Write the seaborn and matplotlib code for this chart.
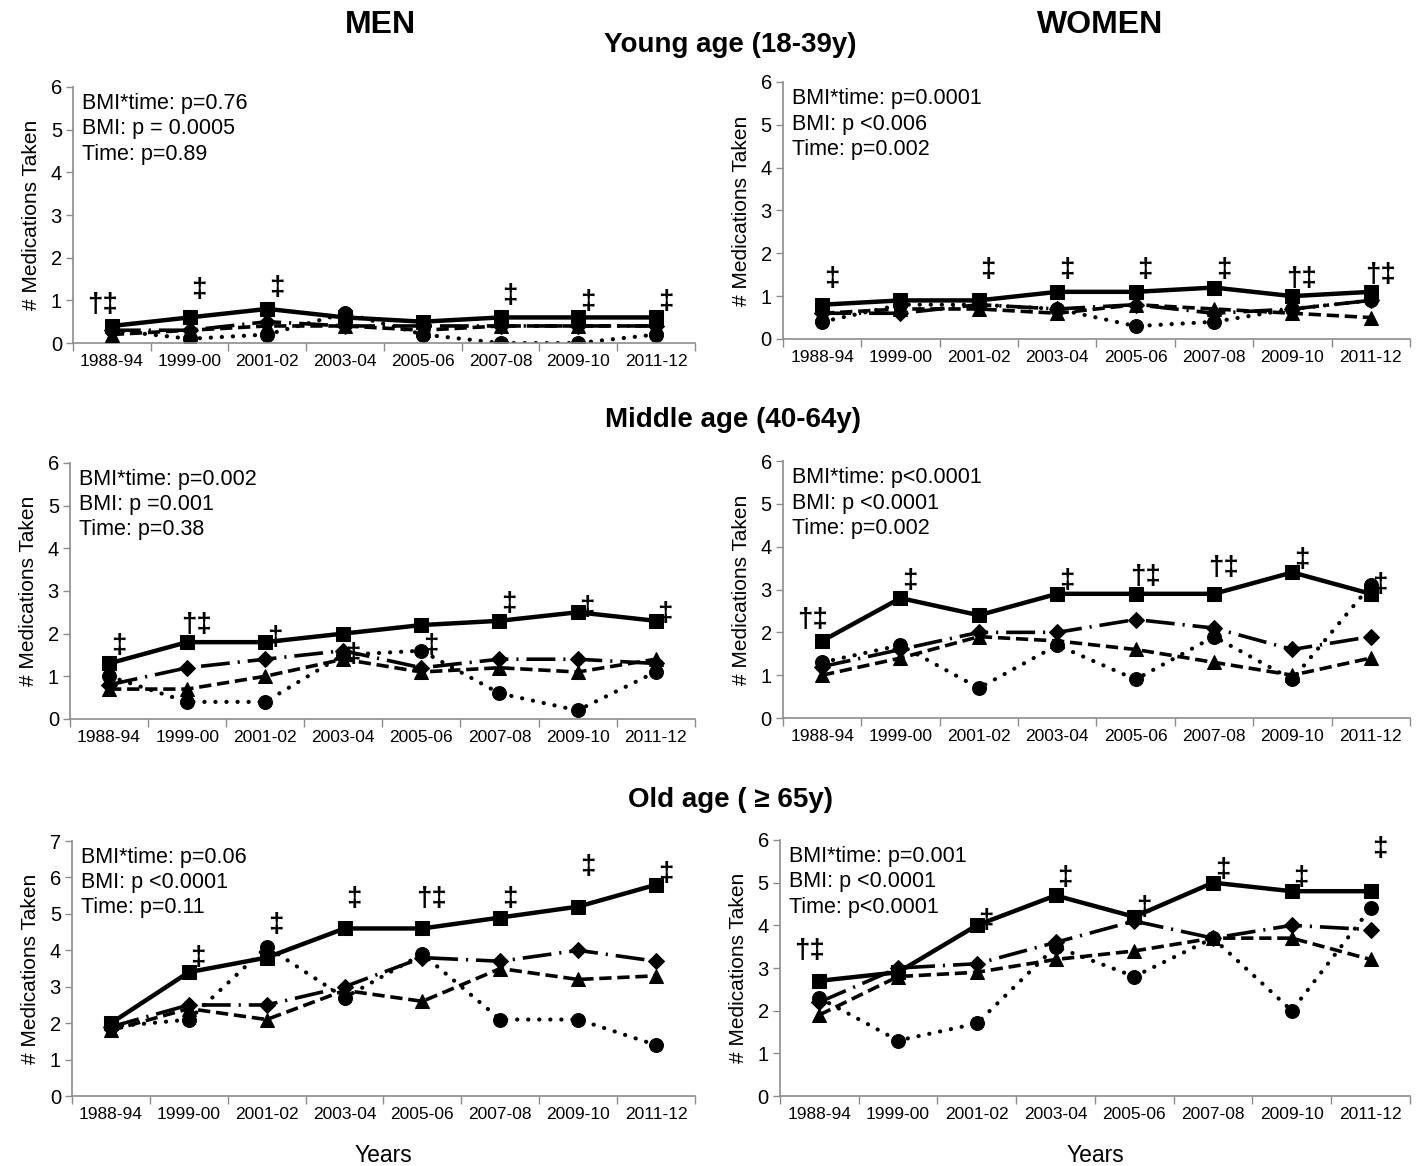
import numpy as np
import pandas as pd
import matplotlib
matplotlib.use("Agg")
import matplotlib.pyplot as plt
import seaborn as sns

PERIODS = ["1988-94", "1999-00", "2001-02", "2003-04", "2005-06", "2007-08", "2009-10", "2011-12"]

# series per panel: squares (solid), diamonds (dash-dot), triangles (dashed), circles (dotted)
young_men_sq = [0.4, 0.6, 0.8, 0.6, 0.5, 0.6, 0.6, 0.6]
young_men_di = [0.3, 0.3, 0.5, 0.4, 0.4, 0.4, 0.4, 0.4]
young_men_tr = [0.2, 0.3, 0.4, 0.4, 0.3, 0.4, 0.4, 0.4]
young_men_ci = [0.3, 0.1, 0.2, 0.7, 0.2, 0.0, 0.0, 0.2]

young_women_sq = [0.8, 0.9, 0.9, 1.1, 1.1, 1.2, 1.0, 1.1]
young_women_di = [0.6, 0.6, 0.8, 0.7, 0.8, 0.6, 0.7, 0.9]
young_women_tr = [0.6, 0.7, 0.7, 0.6, 0.8, 0.7, 0.6, 0.5]
young_women_ci = [0.4, 0.8, 0.8, 0.7, 0.3, 0.4, 0.7, 0.9]

middle_men_sq = [1.3, 1.8, 1.8, 2.0, 2.2, 2.3, 2.5, 2.3]
middle_men_di = [0.8, 1.2, 1.4, 1.6, 1.2, 1.4, 1.4, 1.3]
middle_men_tr = [0.7, 0.7, 1.0, 1.4, 1.1, 1.2, 1.1, 1.4]
middle_men_ci = [1.0, 0.4, 0.4, 1.5, 1.6, 0.6, 0.2, 1.1]

middle_women_sq = [1.8, 2.8, 2.4, 2.9, 2.9, 2.9, 3.4, 2.9]
middle_women_di = [1.2, 1.6, 2.0, 2.0, 2.3, 2.1, 1.6, 1.9]
middle_women_tr = [1.0, 1.4, 1.9, 1.8, 1.6, 1.3, 1.0, 1.4]
middle_women_ci = [1.3, 1.7, 0.7, 1.7, 0.9, 1.9, 0.9, 3.1]

old_men_sq = [2.0, 3.4, 3.8, 4.6, 4.6, 4.9, 5.2, 5.8]
old_men_di = [1.9, 2.5, 2.5, 3.0, 3.8, 3.7, 4.0, 3.7]
old_men_tr = [1.8, 2.4, 2.1, 2.9, 2.6, 3.5, 3.2, 3.3]
old_men_ci = [1.9, 2.1, 4.1, 2.7, 3.9, 2.1, 2.1, 1.4]

old_women_sq = [2.7, 2.9, 4.0, 4.7, 4.2, 5.0, 4.8, 4.8]
old_women_di = [2.2, 3.0, 3.1, 3.6, 4.1, 3.7, 4.0, 3.9]
old_women_tr = [1.9, 2.8, 2.9, 3.2, 3.4, 3.7, 3.7, 3.2]
old_women_ci = [2.3, 1.3, 1.7, 3.5, 2.8, 3.7, 2.0, 4.4]

# significance marks and the height they sit at
young_men_sig = ["†‡", "‡", "‡", "", "", "‡", "‡", "‡"]
young_men_sig_y = [0.9, 1.25, 1.3, 0, 0, 1.1, 0.95, 0.95]
young_women_sig = ["‡", "", "‡", "‡", "‡", "‡", "†‡", "†‡"]
young_women_sig_y = [1.4, 0, 1.6, 1.6, 1.6, 1.6, 1.4, 1.5]
middle_men_sig = ["‡", "†‡", "‡", "‡", "‡", "‡", "‡", "‡"]
middle_men_sig_y = [1.7, 2.2, 1.9, 1.5, 1.7, 2.7, 2.6, 2.45]
middle_women_sig = ["†‡", "‡", "", "‡", "†‡", "†‡", "‡", "‡"]
middle_women_sig_y = [2.3, 3.2, 0, 3.2, 3.3, 3.5, 3.7, 3.1]
old_men_sig = ["", "‡", "‡", "‡", "†‡", "‡", "‡", "‡"]
old_men_sig_y = [0, 3.8, 4.7, 5.4, 5.4, 5.4, 6.3, 6.1]
old_women_sig = ["†‡", "", "‡", "‡", "‡", "‡", "‡", "‡"]
old_women_sig_y = [3.4, 0, 4.1, 5.1, 4.4, 5.3, 5.1, 5.8]

young_men_stats = ["BMI*time: p=0.76", "BMI: p = 0.0005", "Time: p=0.89"]
young_women_stats = ["BMI*time: p=0.0001", "BMI: p <0.006", "Time: p=0.002"]
middle_men_stats = ["BMI*time: p=0.002", "BMI: p =0.001", "Time: p=0.38"]
middle_women_stats = ["BMI*time: p<0.0001", "BMI: p <0.0001", "Time: p=0.002"]
old_men_stats = ["BMI*time: p=0.06", "BMI: p <0.0001", "Time: p=0.11"]
old_women_stats = ["BMI*time: p=0.001", "BMI: p <0.0001", "Time: p<0.0001"]

sns.set_theme(style="white")
plt.rcParams['font.family'] = ['Liberation Sans', 'DejaVu Sans']
plt.rcParams['text.color'] = 'black'
plt.rcParams['axes.labelcolor'] = 'black'
plt.rcParams['xtick.color'] = 'black'
plt.rcParams['ytick.color'] = 'black'

AXIS_GRAY = "#8c8c8c"

STYLES = [
    dict(marker="s", markersize=10, lw=3.2, dashes=None),
    dict(marker="D", markersize=8, lw=2.6, dashes=(8, 2.2, 0.6, 2.2)),
    dict(marker="^", markersize=10, lw=2.6, dashes=(3.4, 1.6)),
    dict(marker="o", markersize=10, lw=3.0, dashes=(0.05, 2.6)),
]


def draw_panel(fig, rect, series, sig, sig_y, stats, ymax, xlabel=False):
    ax = fig.add_axes(rect)
    x = np.arange(len(PERIODS))
    for vals, st, z in zip(series, STYLES, [5, 4, 3, 2]):
        df = pd.DataFrame({"pos": x, "val": vals})
        sns.lineplot(data=df, x="pos", y="val", ax=ax, color="black",
                     marker=st["marker"], markersize=st["markersize"],
                     markeredgecolor="black", lw=st["lw"], zorder=z)
        line = ax.lines[-1]
        if st["dashes"] is not None:
            line.set_dashes(st["dashes"])
        if st["marker"] == "o":
            line.set_dash_capstyle("round")
    for i, (s, yv) in enumerate(zip(sig, sig_y)):
        if not s:
            continue
        dx = -0.12 if (i == 0 and len(s) > 1) else 0.12
        ax.text(i + dx, yv, s, ha="center", va="center", fontsize=20,
                fontweight="bold", zorder=1)
    for k, line_txt in enumerate(stats):
        ax.text(0.015, 0.975 - k * 0.098, line_txt, transform=ax.transAxes,
                ha="left", va="top", fontsize=15.5)
    ax.set_xlim(-0.5, len(PERIODS) - 0.5)
    ax.set_ylim(0, ymax)
    ax.set_yticks(range(0, ymax + 1))
    ax.set_xticks(np.arange(-0.5, len(PERIODS)), labels=[""] * (len(PERIODS) + 1))
    ax.set_xticks(x, labels=PERIODS, minor=True)
    ax.tick_params(axis="x", which="major", direction="out", length=6,
                   width=1, color=AXIS_GRAY, bottom=True)
    ax.tick_params(axis="x", which="minor", length=0, labelsize=12.5, pad=8)
    ax.tick_params(axis="y", direction="out", length=5, width=1,
                   color=AXIS_GRAY, left=True, labelsize=14.5, pad=3)
    for side in ["top", "right"]:
        ax.spines[side].set_visible(False)
    for side in ["left", "bottom"]:
        ax.spines[side].set_color(AXIS_GRAY)
        ax.spines[side].set_linewidth(1.2)
    ax.set_ylabel("# Medications Taken", fontsize=15, labelpad=7)
    if xlabel:
        ax.set_xlabel("Years", fontsize=16.5, labelpad=16)
    else:
        ax.set_xlabel("")
    ax.grid(False)
    return ax


fig = plt.figure(figsize=(14.23, 11.66), dpi=100)

draw_panel(fig, [0.0513, 0.7058, 0.437, 0.2196],
           [young_men_sq, young_men_di, young_men_tr, young_men_ci],
           young_men_sig, young_men_sig_y, young_men_stats, 6)
draw_panel(fig, [0.5502, 0.7093, 0.4406, 0.2204],
           [young_women_sq, young_women_di, young_women_tr, young_women_ci],
           young_women_sig, young_women_sig_y, young_women_stats, 6)
draw_panel(fig, [0.0492, 0.3834, 0.439, 0.2196],
           [middle_men_sq, middle_men_di, middle_men_tr, middle_men_ci],
           middle_men_sig, middle_men_sig_y, middle_men_stats, 6)
draw_panel(fig, [0.5502, 0.3842, 0.4406, 0.2204],
           [middle_women_sq, middle_women_di, middle_women_tr, middle_women_ci],
           middle_women_sig, middle_women_sig_y, middle_women_stats, 6)
draw_panel(fig, [0.0506, 0.0600, 0.4378, 0.2187],
           [old_men_sq, old_men_di, old_men_tr, old_men_ci],
           old_men_sig, old_men_sig_y, old_men_stats, 7, xlabel=True)
draw_panel(fig, [0.5481, 0.0600, 0.4427, 0.2196],
           [old_women_sq, old_women_di, old_women_tr, old_women_ci],
           old_women_sig, old_women_sig_y, old_women_stats, 6, xlabel=True)

fig.text(380 / 1423, 1 - 25 / 1166, "MEN", ha="center", va="center",
         fontsize=23, fontweight="bold")
fig.text(1100 / 1423, 1 - 25 / 1166, "WOMEN", ha="center", va="center",
         fontsize=23, fontweight="bold")
fig.text(730 / 1423, 1 - 45 / 1166, "Young age (18-39y)", ha="center",
         va="center", fontsize=20, fontweight="bold")
fig.text(733 / 1423, 1 - 420 / 1166, "Middle age (40-64y)", ha="center",
         va="center", fontsize=20, fontweight="bold")
fig.text(730 / 1423, 1 - 800 / 1166, "Old age ( ≥ 65y)", ha="center",
         va="center", fontsize=20, fontweight="bold")

fig.savefig("out.png", dpi=100, facecolor="white")
